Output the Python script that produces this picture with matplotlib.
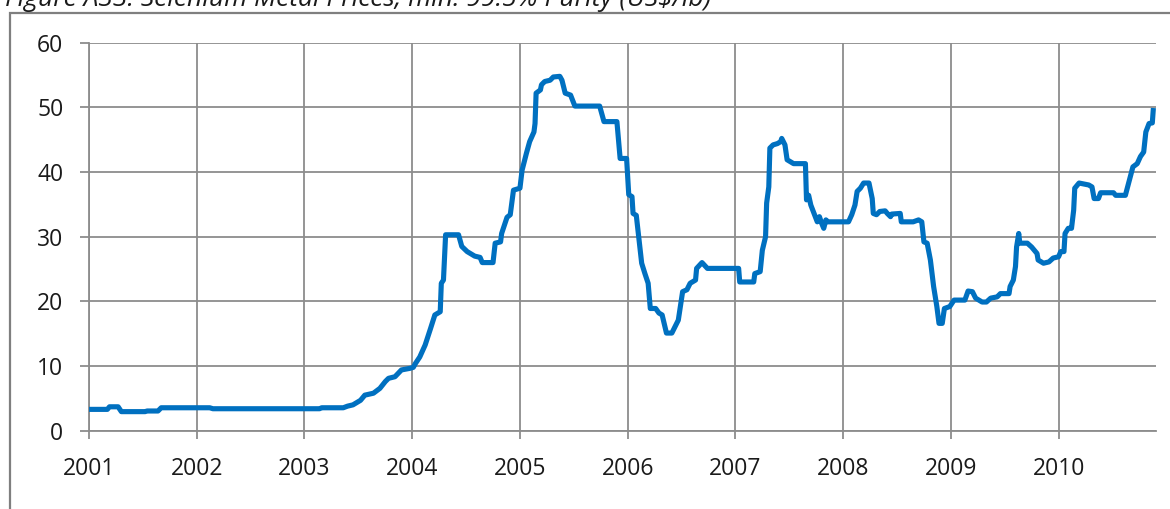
import matplotlib.pyplot as plt
from matplotlib.patches import Rectangle

# Selenium price, min. 99.5% purity (US$/lb), decimal year vs price
years = [
    2001.00, 2001.17, 2001.19, 2001.27, 2001.30, 2001.52, 2001.54, 2001.64,
    2001.67, 2002.12, 2002.15, 2003.14, 2003.16, 2003.36, 2003.40, 2003.45,
    2003.52, 2003.56, 2003.64, 2003.70, 2003.75, 2003.78, 2003.84, 2003.90,
    2003.98, 2004.01, 2004.03, 2004.07, 2004.12, 2004.17, 2004.21, 2004.26,
    2004.27, 2004.29, 2004.31, 2004.43, 2004.46, 2004.51, 2004.54, 2004.58,
    2004.63, 2004.65, 2004.75, 2004.77, 2004.82, 2004.83, 2004.88, 2004.91,
    2004.94, 2005.00, 2005.02, 2005.06, 2005.09, 2005.13, 2005.14, 2005.15,
    2005.19, 2005.20, 2005.23, 2005.28, 2005.31, 2005.37, 2005.39, 2005.42,
    2005.47, 2005.51, 2005.74, 2005.78, 2005.90, 2005.93, 2005.99, 2006.01,
    2006.04, 2006.05, 2006.08, 2006.13, 2006.16, 2006.19, 2006.21, 2006.26,
    2006.29, 2006.32, 2006.36, 2006.41, 2006.47, 2006.51, 2006.55, 2006.58,
    2006.63, 2006.64, 2006.69, 2006.74, 2007.03, 2007.04, 2007.17, 2007.18,
    2007.23, 2007.25, 2007.28, 2007.29, 2007.31, 2007.32, 2007.35, 2007.39,
    2007.42, 2007.43, 2007.46, 2007.48, 2007.51, 2007.54, 2007.65, 2007.66,
    2007.68, 2007.70, 2007.73, 2007.76, 2007.78, 2007.80, 2007.82, 2007.84,
    2007.86, 2008.05, 2008.08, 2008.11, 2008.13, 2008.16, 2008.19, 2008.24,
    2008.27, 2008.28, 2008.31, 2008.34, 2008.39, 2008.41, 2008.44, 2008.45,
    2008.53, 2008.54, 2008.65, 2008.70, 2008.73, 2008.75, 2008.78, 2008.81,
    2008.84, 2008.87, 2008.89, 2008.92, 2008.94, 2008.99, 2009.03, 2009.13,
    2009.16, 2009.20, 2009.23, 2009.29, 2009.33, 2009.37, 2009.43, 2009.46,
    2009.54, 2009.55, 2009.58, 2009.60, 2009.61, 2009.63, 2009.64, 2009.71,
    2009.75, 2009.80, 2009.81, 2009.86, 2009.91, 2009.95, 2010.00, 2010.02,
    2010.05, 2010.06, 2010.09, 2010.12, 2010.14, 2010.15, 2010.19, 2010.28,
    2010.31, 2010.33, 2010.37, 2010.39, 2010.51, 2010.53, 2010.62, 2010.65,
    2010.69, 2010.73, 2010.76, 2010.79, 2010.81, 2010.84, 2010.87, 2010.88,
]
prices = [
    3.3, 3.3, 3.7, 3.7, 2.95, 2.95, 3.05, 3.05,
    3.55, 3.55, 3.4, 3.4, 3.55, 3.55, 3.8, 4.0,
    4.7, 5.5, 5.8, 6.55, 7.6, 8.1, 8.35, 9.4,
    9.65, 9.8, 10.4, 11.4, 13.25, 15.8, 17.9, 18.4,
    22.8, 23.3, 30.3, 30.3, 28.5, 27.7, 27.4, 27.0,
    26.8, 26.0, 26.0, 29.0, 29.2, 30.5, 33.0, 33.4,
    37.2, 37.5, 40.3, 42.9, 44.7, 46.2, 47.5, 52.2,
    52.7, 53.5, 54.0, 54.2, 54.7, 54.8, 54.2, 52.2,
    51.9, 50.2, 50.2, 47.8, 47.8, 42.1, 42.1, 36.5,
    36.2, 33.6, 33.3, 25.9, 24.3, 22.8, 18.9, 18.9,
    18.2, 17.9, 15.1, 15.1, 17.1, 21.5, 21.8, 22.8,
    23.3, 25.1, 26.0, 25.1, 25.1, 23.0, 23.0, 24.3,
    24.6, 27.9, 30.0, 35.2, 37.7, 43.7, 44.2, 44.4,
    44.7, 45.2, 44.2, 41.9, 41.6, 41.3, 41.3, 35.7,
    36.4, 34.9, 33.6, 32.3, 33.1, 32.1, 31.3, 32.6,
    32.3, 32.3, 33.4, 34.9, 37.0, 37.5, 38.3, 38.3,
    35.9, 33.6, 33.4, 33.9, 34.0, 33.6, 33.1, 33.5,
    33.6, 32.3, 32.3, 32.6, 32.3, 29.2, 29.0, 26.4,
    22.3, 19.2, 16.6, 16.6, 18.9, 19.2, 20.2, 20.2,
    21.6, 21.5, 20.5, 19.9, 19.9, 20.5, 20.7, 21.2,
    21.2, 22.3, 23.3, 25.4, 28.4, 30.5, 29.0, 29.0,
    28.4, 27.4, 26.4, 25.9, 26.1, 26.7, 26.9, 27.7,
    27.7, 30.5, 31.3, 31.3, 34.1, 37.5, 38.3, 38.0,
    37.7, 35.9, 35.9, 36.8, 36.8, 36.4, 36.4, 38.3,
    40.8, 41.3, 42.4, 43.1, 46.2, 47.5, 47.6, 49.9,
]
year_ticks = list(range(2001, 2011))
price_ticks = [0, 10, 20, 30, 40, 50, 60]

title = "Figure A33: Selenium Metal Prices, min. 99.5% Purity (US$/lb)"

plt.rcParams["font.family"] = ["Open Sans", "DejaVu Sans"]

grid_color = "#8c8c8c"
line_color = "#0070c0"

fig = plt.figure(figsize=(11.7, 5.09), dpi=100)
ax = fig.add_axes([0.0761, 0.1538, 0.9120, 0.7623])

# outer frame, running off the right and bottom edges
fig.patches.append(Rectangle((9.5 / 1170, -0.05), 1.2, 0.05 + 1 - 13 / 509,
                             transform=fig.transFigure, fill=False,
                             edgecolor="#7f7f7f", linewidth=1.6))
fig.text(0.004, 1 - 6 / 509, title, fontsize=19, style="italic",
         color="#1a1a1a", ha="left", va="baseline")

ax.plot(years, prices, color=line_color, linewidth=3.7,
        solid_joinstyle="round", solid_capstyle="butt", zorder=3)

ax.set_xlim(2001, 2010.905)
ax.set_ylim(0, 60)
ax.set_xticks(year_ticks)
ax.set_xticklabels([str(y) for y in year_ticks])
ax.set_yticks(price_ticks)

ax.grid(True, color=grid_color, linewidth=1.3)
ax.set_axisbelow(True)
for side in ("top", "right"):
    ax.spines[side].set_visible(False)
for side in ("left", "bottom"):
    ax.spines[side].set_color(grid_color)
    ax.spines[side].set_linewidth(1.3)

ax.tick_params(axis="both", colors=grid_color, width=1.3, labelcolor="#1a1a1a",
               labelsize=16.5)
ax.tick_params(axis="y", length=6.5, pad=12)
ax.tick_params(axis="x", length=6, pad=13)

fig.savefig("out.png", dpi=100)
